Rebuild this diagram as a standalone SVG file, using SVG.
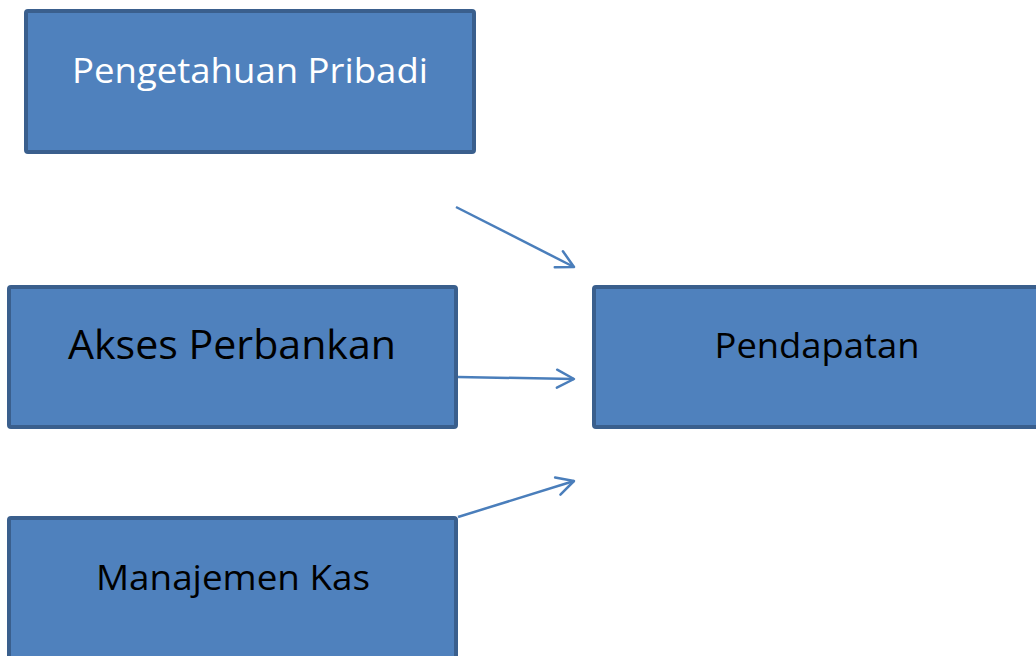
<svg xmlns="http://www.w3.org/2000/svg" width="1036" height="656" viewBox="0 0 1036 656">
<style>
.box{fill:#4F81BD;stroke:#3A5F8D;stroke-width:4;}
.t{font-family:"Open Sans","Liberation Sans",sans-serif;text-anchor:middle;}
.conn{stroke:#4A7EBB;stroke-width:2.5;fill:none;marker-end:url(#arr);}
</style>
<defs>
<marker id="arr" markerUnits="userSpaceOnUse" markerWidth="24" markerHeight="24" viewBox="-20 -12 24 24" refX="0" refY="0" orient="auto">
<path d="M-17,-9 L0,0 L-17,9" fill="none" stroke="#4A7EBB" stroke-width="2.5" stroke-linecap="round" stroke-linejoin="round"/>
</marker>
</defs>
<rect width="1036" height="656" fill="#FFFFFF"/>
<g id="node-pengetahuan">
<rect class="box" x="26" y="11" width="448" height="141" rx="2"/>
<text class="t" x="250" y="83" font-size="35" fill="#FFFFFF" textLength="356" lengthAdjust="spacingAndGlyphs">Pengetahuan Pribadi</text>
</g>
<g id="node-akses">
<rect class="box" x="9" y="287" width="447" height="140" rx="2"/>
<text class="t" x="232" y="359" font-size="41" fill="#000000" textLength="328" lengthAdjust="spacingAndGlyphs">Akses Perbankan</text>
</g>
<g id="node-pendapatan">
<rect class="box" x="594" y="287" width="460" height="140" rx="2"/>
<text class="t" x="817" y="358" font-size="35" fill="#000000" textLength="205" lengthAdjust="spacingAndGlyphs">Pendapatan</text>
</g>
<g id="node-manajemen">
<rect class="box" x="9" y="518" width="447" height="160" rx="2"/>
<text class="t" x="233" y="590" font-size="34" fill="#000000" textLength="274" lengthAdjust="spacingAndGlyphs">Manajemen Kas</text>
</g>
<g id="connectors">
<line class="conn" x1="456" y1="207" x2="574" y2="267"/>
<line class="conn" x1="458" y1="377" x2="574" y2="379"/>
<line class="conn" x1="458" y1="517" x2="574" y2="481"/>
</g>
</svg>
